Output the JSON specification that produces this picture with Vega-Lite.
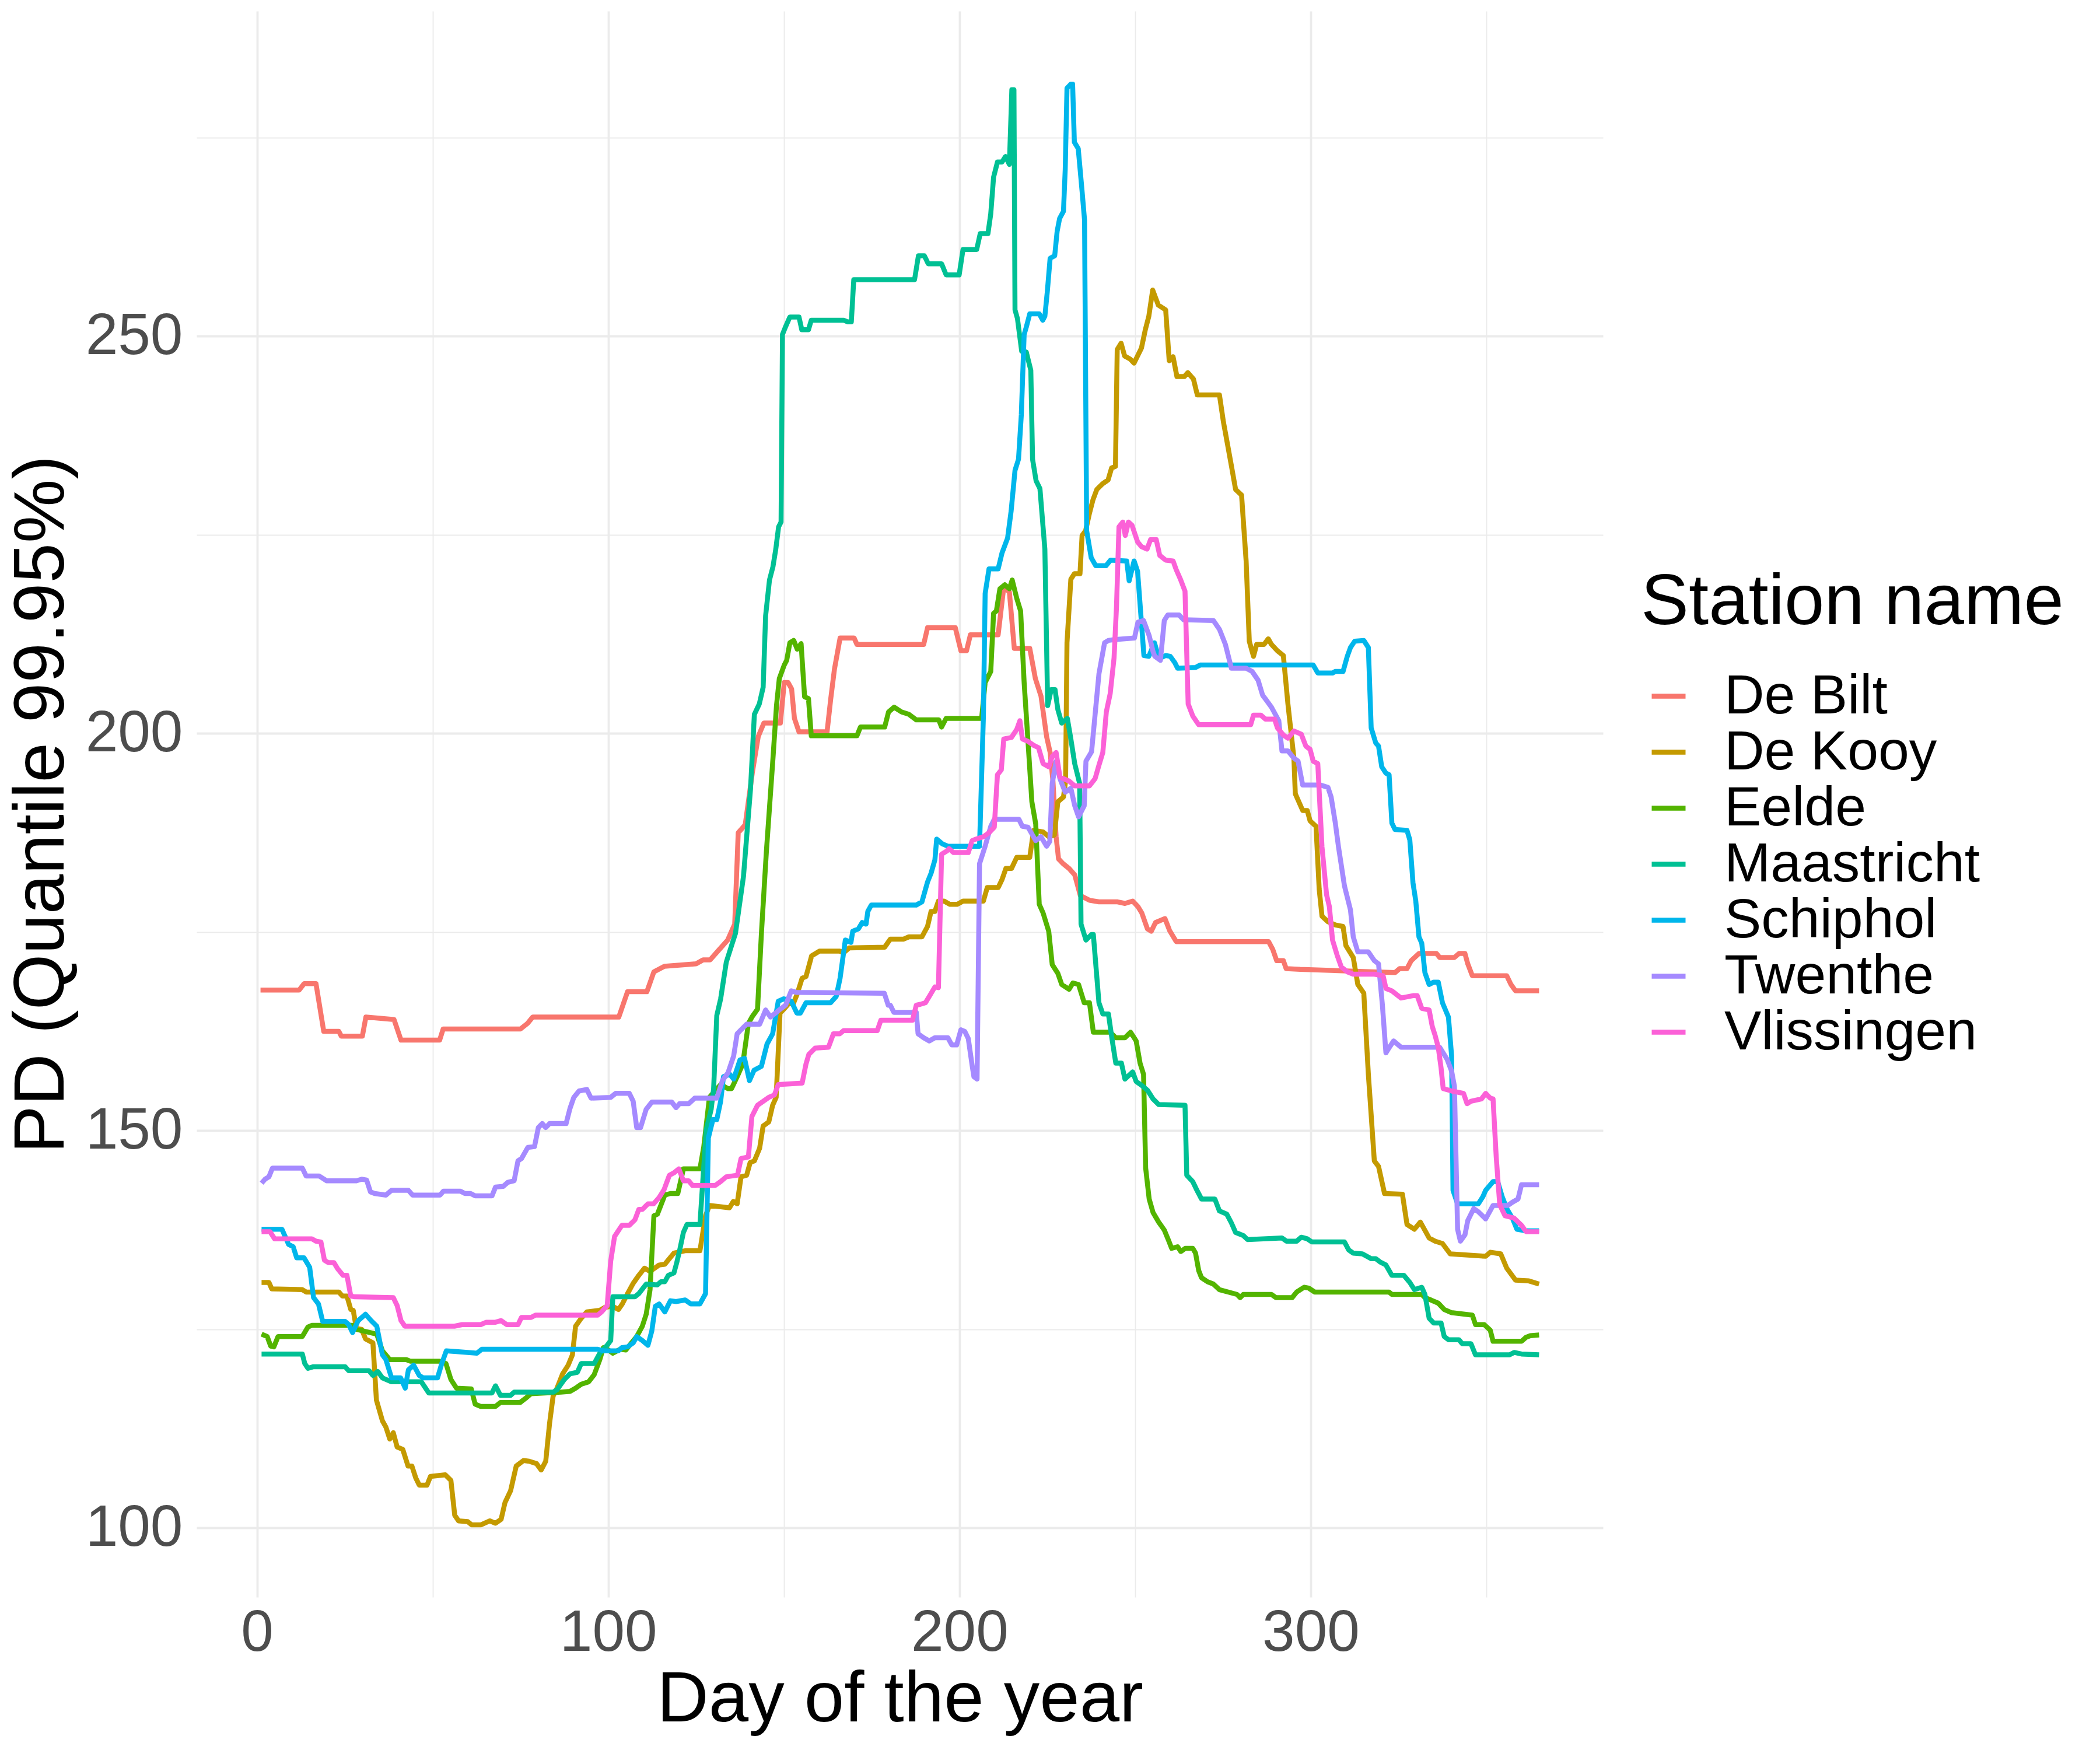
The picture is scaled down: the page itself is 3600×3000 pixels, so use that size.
{
  "$schema": "https://vega.github.io/schema/vega-lite/v6.json",
  "autosize": {"type": "none"},
  "padding": {"left": 337, "top": 19, "right": 852, "bottom": 262},
  "width": 2411,
  "height": 2719,
  "background": "white",
  "config": {
    "view": {"stroke": null},
    "font": "Liberation Sans",
    "axis": {
      "domain": false,
      "ticks": false,
      "tickSize": 0,
      "gridColor": "#EBEBEB",
      "labelFont": "Liberation Sans",
      "labelFontSize": 100,
      "labelColor": "#4D4D4D",
      "labelLimit": 600,
      "titleFont": "Liberation Sans",
      "titleFontSize": 123,
      "titleFontWeight": "normal",
      "titleColor": "black"
    },
    "legend": {
      "titleFont": "Liberation Sans",
      "titleFontSize": 123,
      "titleFontWeight": "normal",
      "titleColor": "black",
      "titleLimit": 2000,
      "titlePadding": 50,
      "labelFont": "Liberation Sans",
      "labelFontSize": 95,
      "labelColor": "black",
      "labelLimit": 2000,
      "labelOffset": 48,
      "rowPadding": 0,
      "padding": 0,
      "symbolType": "stroke",
      "symbolSize": 3364,
      "symbolStrokeWidth": 8.7
    }
  },
  "data": {
    "values": [
      {"station": "De Bilt", "day": 1, "pd": 167.7}, {"station": "De Bilt", "day": 12, "pd": 167.7}, {"station": "De Bilt", "day": 13.4, "pd": 168.5}, {"station": "De Bilt", "day": 16.8, "pd": 168.5}, {"station": "De Bilt", "day": 19, "pd": 162.5}, {"station": "De Bilt", "day": 23.3, "pd": 162.5}, {"station": "De Bilt", "day": 24, "pd": 161.9}, {"station": "De Bilt", "day": 30, "pd": 161.9}, {"station": "De Bilt", "day": 31, "pd": 164.3}, {"station": "De Bilt", "day": 39, "pd": 164}, {"station": "De Bilt", "day": 41, "pd": 161.4}, {"station": "De Bilt", "day": 52, "pd": 161.4}, {"station": "De Bilt", "day": 53, "pd": 162.8}, {"station": "De Bilt", "day": 75, "pd": 162.8}, {"station": "De Bilt", "day": 77, "pd": 163.5}, {"station": "De Bilt", "day": 78.5, "pd": 164.3}, {"station": "De Bilt", "day": 103, "pd": 164.3}, {"station": "De Bilt", "day": 105.5, "pd": 167.5}, {"station": "De Bilt", "day": 111, "pd": 167.5}, {"station": "De Bilt", "day": 113, "pd": 170}, {"station": "De Bilt", "day": 116, "pd": 170.7}, {"station": "De Bilt", "day": 125, "pd": 171}, {"station": "De Bilt", "day": 127, "pd": 171.5}, {"station": "De Bilt", "day": 129, "pd": 171.5}, {"station": "De Bilt", "day": 131, "pd": 172.5}, {"station": "De Bilt", "day": 134, "pd": 174}, {"station": "De Bilt", "day": 136, "pd": 176}, {"station": "De Bilt", "day": 137, "pd": 187.5}, {"station": "De Bilt", "day": 139, "pd": 188.5}, {"station": "De Bilt", "day": 141, "pd": 195}, {"station": "De Bilt", "day": 142.7, "pd": 199.6}, {"station": "De Bilt", "day": 144.3, "pd": 201.3}, {"station": "De Bilt", "day": 149, "pd": 201.3}, {"station": "De Bilt", "day": 150.1, "pd": 206.4}, {"station": "De Bilt", "day": 151.2, "pd": 206.4}, {"station": "De Bilt", "day": 152.2, "pd": 205.6}, {"station": "De Bilt", "day": 153, "pd": 201.9}, {"station": "De Bilt", "day": 154.3, "pd": 200.2}, {"station": "De Bilt", "day": 162.3, "pd": 200.2}, {"station": "De Bilt", "day": 163.3, "pd": 204.2}, {"station": "De Bilt", "day": 164.4, "pd": 208.1}, {"station": "De Bilt", "day": 166, "pd": 212}, {"station": "De Bilt", "day": 170, "pd": 212}, {"station": "De Bilt", "day": 170.8, "pd": 211.2}, {"station": "De Bilt", "day": 189.8, "pd": 211.2}, {"station": "De Bilt", "day": 190.9, "pd": 213.3}, {"station": "De Bilt", "day": 198.8, "pd": 213.3}, {"station": "De Bilt", "day": 200.4, "pd": 210.4}, {"station": "De Bilt", "day": 202, "pd": 210.4}, {"station": "De Bilt", "day": 203.1, "pd": 212.4}, {"station": "De Bilt", "day": 211, "pd": 212.4}, {"station": "De Bilt", "day": 212.6, "pd": 218.4}, {"station": "De Bilt", "day": 214.2, "pd": 217.8}, {"station": "De Bilt", "day": 215.6, "pd": 210.7}, {"station": "De Bilt", "day": 220, "pd": 210.7}, {"station": "De Bilt", "day": 221.6, "pd": 206.9}, {"station": "De Bilt", "day": 223.2, "pd": 204.7}, {"station": "De Bilt", "day": 224.8, "pd": 199.6}, {"station": "De Bilt", "day": 225.8, "pd": 197.6}, {"station": "De Bilt", "day": 226.6, "pd": 194}, {"station": "De Bilt", "day": 227.5, "pd": 187}, {"station": "De Bilt", "day": 228.2, "pd": 184.2}, {"station": "De Bilt", "day": 229.5, "pd": 183.6}, {"station": "De Bilt", "day": 231.2, "pd": 183}, {"station": "De Bilt", "day": 232.8, "pd": 182.2}, {"station": "De Bilt", "day": 234.4, "pd": 179.6}, {"station": "De Bilt", "day": 237, "pd": 179}, {"station": "De Bilt", "day": 239.7, "pd": 178.8}, {"station": "De Bilt", "day": 245, "pd": 178.8}, {"station": "De Bilt", "day": 247.1, "pd": 178.6}, {"station": "De Bilt", "day": 249.3, "pd": 178.9}, {"station": "De Bilt", "day": 250.8, "pd": 178.2}, {"station": "De Bilt", "day": 251.9, "pd": 177.4}, {"station": "De Bilt", "day": 253.5, "pd": 175.4}, {"station": "De Bilt", "day": 254.6, "pd": 175.1}, {"station": "De Bilt", "day": 255.8, "pd": 176.2}, {"station": "De Bilt", "day": 258.5, "pd": 176.7}, {"station": "De Bilt", "day": 259.8, "pd": 175.2}, {"station": "De Bilt", "day": 261.7, "pd": 173.8}, {"station": "De Bilt", "day": 288, "pd": 173.8}, {"station": "De Bilt", "day": 289.2, "pd": 172.8}, {"station": "De Bilt", "day": 290.3, "pd": 171.4}, {"station": "De Bilt", "day": 292.2, "pd": 171.4}, {"station": "De Bilt", "day": 293, "pd": 170.4}, {"station": "De Bilt", "day": 297, "pd": 170.3}, {"station": "De Bilt", "day": 324, "pd": 169.9}, {"station": "De Bilt", "day": 325.3, "pd": 170.4}, {"station": "De Bilt", "day": 327.4, "pd": 170.4}, {"station": "De Bilt", "day": 328.6, "pd": 171.4}, {"station": "De Bilt", "day": 330.8, "pd": 172.3}, {"station": "De Bilt", "day": 335.8, "pd": 172.3}, {"station": "De Bilt", "day": 336.7, "pd": 171.8}, {"station": "De Bilt", "day": 340.9, "pd": 171.8}, {"station": "De Bilt", "day": 342.2, "pd": 172.3}, {"station": "De Bilt", "day": 343.9, "pd": 172.3}, {"station": "De Bilt", "day": 344.7, "pd": 171}, {"station": "De Bilt", "day": 346, "pd": 169.5}, {"station": "De Bilt", "day": 355.8, "pd": 169.5}, {"station": "De Bilt", "day": 357, "pd": 168.4}, {"station": "De Bilt", "day": 358.3, "pd": 167.6}, {"station": "De Bilt", "day": 365, "pd": 167.6},

      {"station": "De Kooy", "day": 1.3, "pd": 130.9}, {"station": "De Kooy", "day": 3.4, "pd": 130.9}, {"station": "De Kooy", "day": 4.2, "pd": 130.1}, {"station": "De Kooy", "day": 12.9, "pd": 130}, {"station": "De Kooy", "day": 14, "pd": 129.7}, {"station": "De Kooy", "day": 23.3, "pd": 129.7}, {"station": "De Kooy", "day": 24.3, "pd": 129.2}, {"station": "De Kooy", "day": 25.6, "pd": 129.2}, {"station": "De Kooy", "day": 26.7, "pd": 127.5}, {"station": "De Kooy", "day": 27.4, "pd": 127.4}, {"station": "De Kooy", "day": 28.3, "pd": 125.1}, {"station": "De Kooy", "day": 29.8, "pd": 125}, {"station": "De Kooy", "day": 30.9, "pd": 123.8}, {"station": "De Kooy", "day": 33, "pd": 123.3}, {"station": "De Kooy", "day": 34, "pd": 116.1}, {"station": "De Kooy", "day": 35.7, "pd": 113.5}, {"station": "De Kooy", "day": 36.7, "pd": 112.7}, {"station": "De Kooy", "day": 37.8, "pd": 111.2}, {"station": "De Kooy", "day": 38.8, "pd": 112}, {"station": "De Kooy", "day": 39.9, "pd": 110.2}, {"station": "De Kooy", "day": 41.5, "pd": 109.9}, {"station": "De Kooy", "day": 43, "pd": 107.8}, {"station": "De Kooy", "day": 44.1, "pd": 107.8}, {"station": "De Kooy", "day": 45.2, "pd": 106.3}, {"station": "De Kooy", "day": 46.2, "pd": 105.4}, {"station": "De Kooy", "day": 48.4, "pd": 105.4}, {"station": "De Kooy", "day": 49.4, "pd": 106.5}, {"station": "De Kooy", "day": 53.6, "pd": 106.7}, {"station": "De Kooy", "day": 55.2, "pd": 106}, {"station": "De Kooy", "day": 56.3, "pd": 101.6}, {"station": "De Kooy", "day": 57.4, "pd": 100.9}, {"station": "De Kooy", "day": 60, "pd": 100.8}, {"station": "De Kooy", "day": 61.1, "pd": 100.4}, {"station": "De Kooy", "day": 63.7, "pd": 100.4}, {"station": "De Kooy", "day": 66.3, "pd": 100.9}, {"station": "De Kooy", "day": 67.9, "pd": 100.6}, {"station": "De Kooy", "day": 69.5, "pd": 101.1}, {"station": "De Kooy", "day": 70.6, "pd": 103.2}, {"station": "De Kooy", "day": 72.2, "pd": 104.7}, {"station": "De Kooy", "day": 73.8, "pd": 107.8}, {"station": "De Kooy", "day": 75.9, "pd": 108.5}, {"station": "De Kooy", "day": 77.5, "pd": 108.4}, {"station": "De Kooy", "day": 79.6, "pd": 108.1}, {"station": "De Kooy", "day": 80.9, "pd": 107.3}, {"station": "De Kooy", "day": 82.2, "pd": 108.4}, {"station": "De Kooy", "day": 83.3, "pd": 113.2}, {"station": "De Kooy", "day": 84.3, "pd": 116.6}, {"station": "De Kooy", "day": 85.4, "pd": 117.6}, {"station": "De Kooy", "day": 87, "pd": 119.4}, {"station": "De Kooy", "day": 88.6, "pd": 120.5}, {"station": "De Kooy", "day": 89.8, "pd": 121.8}, {"station": "De Kooy", "day": 90.7, "pd": 125.4}, {"station": "De Kooy", "day": 92.3, "pd": 126.4}, {"station": "De Kooy", "day": 93.9, "pd": 127.2}, {"station": "De Kooy", "day": 97.6, "pd": 127.4}, {"station": "De Kooy", "day": 99.2, "pd": 127.8}, {"station": "De Kooy", "day": 101.3, "pd": 127.9}, {"station": "De Kooy", "day": 102.9, "pd": 127.5}, {"station": "De Kooy", "day": 104, "pd": 128.2}, {"station": "De Kooy", "day": 105.5, "pd": 129.5}, {"station": "De Kooy", "day": 107.1, "pd": 130.8}, {"station": "De Kooy", "day": 108.7, "pd": 131.8}, {"station": "De Kooy", "day": 110.3, "pd": 132.7}, {"station": "De Kooy", "day": 111.9, "pd": 132.3}, {"station": "De Kooy", "day": 114.5, "pd": 133.1}, {"station": "De Kooy", "day": 116.1, "pd": 133.2}, {"station": "De Kooy", "day": 118.7, "pd": 134.6}, {"station": "De Kooy", "day": 121.9, "pd": 134.9}, {"station": "De Kooy", "day": 126.1, "pd": 134.9}, {"station": "De Kooy", "day": 127.7, "pd": 139.3}, {"station": "De Kooy", "day": 128.8, "pd": 140.6}, {"station": "De Kooy", "day": 134.5, "pd": 140.3}, {"station": "De Kooy", "day": 135.6, "pd": 141.1}, {"station": "De Kooy", "day": 136.7, "pd": 140.8}, {"station": "De Kooy", "day": 137.8, "pd": 144.2}, {"station": "De Kooy", "day": 139.4, "pd": 144.4}, {"station": "De Kooy", "day": 140.4, "pd": 146}, {"station": "De Kooy", "day": 141.6, "pd": 146.2}, {"station": "De Kooy", "day": 143.1, "pd": 147.8}, {"station": "De Kooy", "day": 144.1, "pd": 150.6}, {"station": "De Kooy", "day": 145.7, "pd": 151.1}, {"station": "De Kooy", "day": 146.8, "pd": 153.2}, {"station": "De Kooy", "day": 147.8, "pd": 154.2}, {"station": "De Kooy", "day": 148.9, "pd": 164.8}, {"station": "De Kooy", "day": 150, "pd": 165.3}, {"station": "De Kooy", "day": 151.6, "pd": 166.1}, {"station": "De Kooy", "day": 152.6, "pd": 165.9}, {"station": "De Kooy", "day": 153.7, "pd": 167.1}, {"station": "De Kooy", "day": 155.2, "pd": 169.2}, {"station": "De Kooy", "day": 156.3, "pd": 169.4}, {"station": "De Kooy", "day": 157.9, "pd": 172}, {"station": "De Kooy", "day": 160.1, "pd": 172.6}, {"station": "De Kooy", "day": 165.9, "pd": 172.6}, {"station": "De Kooy", "day": 167, "pd": 172.4}, {"station": "De Kooy", "day": 168.6, "pd": 173}, {"station": "De Kooy", "day": 178.7, "pd": 173.1}, {"station": "De Kooy", "day": 180.3, "pd": 174.1}, {"station": "De Kooy", "day": 184, "pd": 174.1}, {"station": "De Kooy", "day": 185.6, "pd": 174.4}, {"station": "De Kooy", "day": 189.3, "pd": 174.4}, {"station": "De Kooy", "day": 190.9, "pd": 175.7}, {"station": "De Kooy", "day": 191.9, "pd": 177.6}, {"station": "De Kooy", "day": 193, "pd": 177.6}, {"station": "De Kooy", "day": 194, "pd": 178.9}, {"station": "De Kooy", "day": 195.6, "pd": 178.9}, {"station": "De Kooy", "day": 197.2, "pd": 178.5}, {"station": "De Kooy", "day": 199.4, "pd": 178.5}, {"station": "De Kooy", "day": 201, "pd": 178.9}, {"station": "De Kooy", "day": 206.8, "pd": 178.9}, {"station": "De Kooy", "day": 207.9, "pd": 180.6}, {"station": "De Kooy", "day": 211, "pd": 180.6}, {"station": "De Kooy", "day": 212.1, "pd": 181.6}, {"station": "De Kooy", "day": 213.2, "pd": 183}, {"station": "De Kooy", "day": 214.8, "pd": 183}, {"station": "De Kooy", "day": 216.3, "pd": 184.4}, {"station": "De Kooy", "day": 220, "pd": 184.4}, {"station": "De Kooy", "day": 221.1, "pd": 187.8}, {"station": "De Kooy", "day": 223.8, "pd": 187.6}, {"station": "De Kooy", "day": 225.4, "pd": 187}, {"station": "De Kooy", "day": 227, "pd": 187.2}, {"station": "De Kooy", "day": 228, "pd": 191.4}, {"station": "De Kooy", "day": 229.6, "pd": 192}, {"station": "De Kooy", "day": 230.2, "pd": 194}, {"station": "De Kooy", "day": 230.6, "pd": 211.4}, {"station": "De Kooy", "day": 231.7, "pd": 219.4}, {"station": "De Kooy", "day": 232.7, "pd": 220.1}, {"station": "De Kooy", "day": 234.3, "pd": 220.1}, {"station": "De Kooy", "day": 234.9, "pd": 224.9}, {"station": "De Kooy", "day": 235.9, "pd": 225.5}, {"station": "De Kooy", "day": 237, "pd": 227.7}, {"station": "De Kooy", "day": 238, "pd": 229.4}, {"station": "De Kooy", "day": 239.1, "pd": 230.7}, {"station": "De Kooy", "day": 240.7, "pd": 231.4}, {"station": "De Kooy", "day": 242.3, "pd": 231.9}, {"station": "De Kooy", "day": 243.3, "pd": 233.4}, {"station": "De Kooy", "day": 244.4, "pd": 233.6}, {"station": "De Kooy", "day": 244.9, "pd": 248.3}, {"station": "De Kooy", "day": 246, "pd": 249.1}, {"station": "De Kooy", "day": 247, "pd": 247.5}, {"station": "De Kooy", "day": 248.6, "pd": 247.1}, {"station": "De Kooy", "day": 249.7, "pd": 246.6}, {"station": "De Kooy", "day": 251.8, "pd": 248.5}, {"station": "De Kooy", "day": 252.9, "pd": 250.8}, {"station": "De Kooy", "day": 253.9, "pd": 252.5}, {"station": "De Kooy", "day": 255, "pd": 255.8}, {"station": "De Kooy", "day": 256.6, "pd": 253.9}, {"station": "De Kooy", "day": 258.7, "pd": 253.3}, {"station": "De Kooy", "day": 259.7, "pd": 246.9}, {"station": "De Kooy", "day": 260.8, "pd": 247.4}, {"station": "De Kooy", "day": 261.9, "pd": 244.9}, {"station": "De Kooy", "day": 264, "pd": 244.9}, {"station": "De Kooy", "day": 265, "pd": 245.4}, {"station": "De Kooy", "day": 266.6, "pd": 244.6}, {"station": "De Kooy", "day": 267.7, "pd": 242.6}, {"station": "De Kooy", "day": 274, "pd": 242.6}, {"station": "De Kooy", "day": 275.1, "pd": 239.3}, {"station": "De Kooy", "day": 277.4, "pd": 233.7}, {"station": "De Kooy", "day": 278.6, "pd": 230.7}, {"station": "De Kooy", "day": 280.3, "pd": 230}, {"station": "De Kooy", "day": 281.6, "pd": 221.7}, {"station": "De Kooy", "day": 282.5, "pd": 211.6}, {"station": "De Kooy", "day": 283.7, "pd": 209.7}, {"station": "De Kooy", "day": 284.6, "pd": 211.2}, {"station": "De Kooy", "day": 286.7, "pd": 211.2}, {"station": "De Kooy", "day": 287.9, "pd": 211.9}, {"station": "De Kooy", "day": 288.8, "pd": 211.2}, {"station": "De Kooy", "day": 290.5, "pd": 210.4}, {"station": "De Kooy", "day": 292.2, "pd": 209.8}, {"station": "De Kooy", "day": 293.5, "pd": 203.7}, {"station": "De Kooy", "day": 295.2, "pd": 196.9}, {"station": "De Kooy", "day": 295.6, "pd": 192.4}, {"station": "De Kooy", "day": 297.7, "pd": 190.3}, {"station": "De Kooy", "day": 299, "pd": 190.3}, {"station": "De Kooy", "day": 299.8, "pd": 189}, {"station": "De Kooy", "day": 301.5, "pd": 188.3}, {"station": "De Kooy", "day": 302.4, "pd": 180.4}, {"station": "De Kooy", "day": 303.2, "pd": 177}, {"station": "De Kooy", "day": 304.9, "pd": 176.3}, {"station": "De Kooy", "day": 307, "pd": 175.9}, {"station": "De Kooy", "day": 309.2, "pd": 175.7}, {"station": "De Kooy", "day": 310, "pd": 173.3}, {"station": "De Kooy", "day": 312.1, "pd": 171.8}, {"station": "De Kooy", "day": 313.4, "pd": 168.4}, {"station": "De Kooy", "day": 315.1, "pd": 167.3}, {"station": "De Kooy", "day": 316.4, "pd": 157.1}, {"station": "De Kooy", "day": 318.1, "pd": 146.2}, {"station": "De Kooy", "day": 319.3, "pd": 145.5}, {"station": "De Kooy", "day": 321, "pd": 142.1}, {"station": "De Kooy", "day": 326.1, "pd": 142}, {"station": "De Kooy", "day": 327.4, "pd": 138.2}, {"station": "De Kooy", "day": 329.5, "pd": 137.6}, {"station": "De Kooy", "day": 331.2, "pd": 138.5}, {"station": "De Kooy", "day": 333.7, "pd": 136.5}, {"station": "De Kooy", "day": 335.4, "pd": 136.1}, {"station": "De Kooy", "day": 337.5, "pd": 135.8}, {"station": "De Kooy", "day": 339.7, "pd": 134.5}, {"station": "De Kooy", "day": 349.8, "pd": 134.2}, {"station": "De Kooy", "day": 351.1, "pd": 134.7}, {"station": "De Kooy", "day": 354.1, "pd": 134.5}, {"station": "De Kooy", "day": 355.8, "pd": 132.7}, {"station": "De Kooy", "day": 358.3, "pd": 131.2}, {"station": "De Kooy", "day": 362.1, "pd": 131.1}, {"station": "De Kooy", "day": 365, "pd": 130.7},

      {"station": "Eelde", "day": 1.3, "pd": 124.4}, {"station": "Eelde", "day": 2.9, "pd": 124.1}, {"station": "Eelde", "day": 3.9, "pd": 122.9}, {"station": "Eelde", "day": 4.8, "pd": 122.8}, {"station": "Eelde", "day": 6, "pd": 124.1}, {"station": "Eelde", "day": 12.9, "pd": 124.1}, {"station": "Eelde", "day": 14.5, "pd": 125.3}, {"station": "Eelde", "day": 15.6, "pd": 125.5}, {"station": "Eelde", "day": 27.2, "pd": 125.5}, {"station": "Eelde", "day": 28.3, "pd": 125}, {"station": "Eelde", "day": 34.1, "pd": 124.4}, {"station": "Eelde", "day": 35.7, "pd": 122.3}, {"station": "Eelde", "day": 37.8, "pd": 121.2}, {"station": "Eelde", "day": 42.5, "pd": 121.2}, {"station": "Eelde", "day": 43.6, "pd": 121}, {"station": "Eelde", "day": 52, "pd": 121}, {"station": "Eelde", "day": 53.8, "pd": 120.7}, {"station": "Eelde", "day": 55.2, "pd": 118.7}, {"station": "Eelde", "day": 56.8, "pd": 117.6}, {"station": "Eelde", "day": 61, "pd": 117.5}, {"station": "Eelde", "day": 62.1, "pd": 115.6}, {"station": "Eelde", "day": 63.7, "pd": 115.3}, {"station": "Eelde", "day": 67.9, "pd": 115.3}, {"station": "Eelde", "day": 69.3, "pd": 115.8}, {"station": "Eelde", "day": 74.9, "pd": 115.8}, {"station": "Eelde", "day": 76.4, "pd": 116.3}, {"station": "Eelde", "day": 78, "pd": 116.9}, {"station": "Eelde", "day": 86.5, "pd": 117.1}, {"station": "Eelde", "day": 89.1, "pd": 117.2}, {"station": "Eelde", "day": 90.7, "pd": 117.6}, {"station": "Eelde", "day": 92.3, "pd": 118.1}, {"station": "Eelde", "day": 94.4, "pd": 118.4}, {"station": "Eelde", "day": 96, "pd": 119.3}, {"station": "Eelde", "day": 97.6, "pd": 121.2}, {"station": "Eelde", "day": 98.6, "pd": 122.7}, {"station": "Eelde", "day": 99.7, "pd": 122.5}, {"station": "Eelde", "day": 101.3, "pd": 122}, {"station": "Eelde", "day": 103.4, "pd": 122.5}, {"station": "Eelde", "day": 105, "pd": 122.4}, {"station": "Eelde", "day": 106.6, "pd": 123.3}, {"station": "Eelde", "day": 108.1, "pd": 124.1}, {"station": "Eelde", "day": 109.7, "pd": 125.4}, {"station": "Eelde", "day": 110.8, "pd": 126.9}, {"station": "Eelde", "day": 111.9, "pd": 130}, {"station": "Eelde", "day": 113, "pd": 139.3}, {"station": "Eelde", "day": 114, "pd": 139.5}, {"station": "Eelde", "day": 116.1, "pd": 141.9}, {"station": "Eelde", "day": 117.7, "pd": 142.1}, {"station": "Eelde", "day": 119.8, "pd": 142.1}, {"station": "Eelde", "day": 121.4, "pd": 145.2}, {"station": "Eelde", "day": 126.1, "pd": 145.2}, {"station": "Eelde", "day": 127.2, "pd": 148}, {"station": "Eelde", "day": 128.8, "pd": 154.2}, {"station": "Eelde", "day": 132, "pd": 155.8}, {"station": "Eelde", "day": 134.1, "pd": 155.3}, {"station": "Eelde", "day": 135.1, "pd": 155.3}, {"station": "Eelde", "day": 136.7, "pd": 156.8}, {"station": "Eelde", "day": 138.3, "pd": 158.4}, {"station": "Eelde", "day": 139.9, "pd": 163.5}, {"station": "Eelde", "day": 140.9, "pd": 164.3}, {"station": "Eelde", "day": 142.5, "pd": 165.3}, {"station": "Eelde", "day": 143.6, "pd": 174.8}, {"station": "Eelde", "day": 145, "pd": 185}, {"station": "Eelde", "day": 146.9, "pd": 196.9}, {"station": "Eelde", "day": 147.9, "pd": 203.5}, {"station": "Eelde", "day": 148.7, "pd": 206.9}, {"station": "Eelde", "day": 150.1, "pd": 208.6}, {"station": "Eelde", "day": 150.8, "pd": 209.2}, {"station": "Eelde", "day": 151.7, "pd": 211.4}, {"station": "Eelde", "day": 152.8, "pd": 211.7}, {"station": "Eelde", "day": 153.8, "pd": 210.6}, {"station": "Eelde", "day": 154.9, "pd": 211.3}, {"station": "Eelde", "day": 155.9, "pd": 204.6}, {"station": "Eelde", "day": 157, "pd": 204.4}, {"station": "Eelde", "day": 157.8, "pd": 199.7}, {"station": "Eelde", "day": 170.8, "pd": 199.7}, {"station": "Eelde", "day": 171.8, "pd": 200.8}, {"station": "Eelde", "day": 178.7, "pd": 200.8}, {"station": "Eelde", "day": 179.8, "pd": 202.7}, {"station": "Eelde", "day": 181.4, "pd": 203.3}, {"station": "Eelde", "day": 183.5, "pd": 202.7}, {"station": "Eelde", "day": 185.6, "pd": 202.4}, {"station": "Eelde", "day": 187.7, "pd": 201.7}, {"station": "Eelde", "day": 194.1, "pd": 201.7}, {"station": "Eelde", "day": 194.9, "pd": 200.8}, {"station": "Eelde", "day": 196.2, "pd": 201.9}, {"station": "Eelde", "day": 206.3, "pd": 201.9}, {"station": "Eelde", "day": 207.3, "pd": 206.4}, {"station": "Eelde", "day": 208.9, "pd": 207.8}, {"station": "Eelde", "day": 209.7, "pd": 215.1}, {"station": "Eelde", "day": 210.5, "pd": 215.4}, {"station": "Eelde", "day": 211.5, "pd": 218.2}, {"station": "Eelde", "day": 212.9, "pd": 218.7}, {"station": "Eelde", "day": 214.2, "pd": 218.2}, {"station": "Eelde", "day": 215, "pd": 219.3}, {"station": "Eelde", "day": 216.3, "pd": 217}, {"station": "Eelde", "day": 217.4, "pd": 215.4}, {"station": "Eelde", "day": 218.4, "pd": 206.4}, {"station": "Eelde", "day": 219.5, "pd": 199}, {"station": "Eelde", "day": 220.6, "pd": 191.4}, {"station": "Eelde", "day": 221.7, "pd": 188.6}, {"station": "Eelde", "day": 222.7, "pd": 178.5}, {"station": "Eelde", "day": 223.8, "pd": 177.4}, {"station": "Eelde", "day": 225.4, "pd": 175.1}, {"station": "Eelde", "day": 226.4, "pd": 170.9}, {"station": "Eelde", "day": 228, "pd": 169.8}, {"station": "Eelde", "day": 229.1, "pd": 168.4}, {"station": "Eelde", "day": 231.2, "pd": 167.8}, {"station": "Eelde", "day": 232.3, "pd": 168.6}, {"station": "Eelde", "day": 233.9, "pd": 168.4}, {"station": "Eelde", "day": 235.5, "pd": 166.1}, {"station": "Eelde", "day": 237, "pd": 166.1}, {"station": "Eelde", "day": 238.1, "pd": 162.4}, {"station": "Eelde", "day": 242.9, "pd": 162.4}, {"station": "Eelde", "day": 244.5, "pd": 161.7}, {"station": "Eelde", "day": 247.1, "pd": 161.7}, {"station": "Eelde", "day": 248.7, "pd": 162.4}, {"station": "Eelde", "day": 250.3, "pd": 161.3}, {"station": "Eelde", "day": 251.4, "pd": 158.5}, {"station": "Eelde", "day": 252.4, "pd": 157.1}, {"station": "Eelde", "day": 253, "pd": 145.3}, {"station": "Eelde", "day": 254, "pd": 141.4}, {"station": "Eelde", "day": 255.1, "pd": 139.7}, {"station": "Eelde", "day": 256.7, "pd": 138.5}, {"station": "Eelde", "day": 258.3, "pd": 137.5}, {"station": "Eelde", "day": 259.6, "pd": 136.1}, {"station": "Eelde", "day": 260.4, "pd": 135.2}, {"station": "Eelde", "day": 262.1, "pd": 135.4}, {"station": "Eelde", "day": 263, "pd": 134.8}, {"station": "Eelde", "day": 264.3, "pd": 135.2}, {"station": "Eelde", "day": 266.4, "pd": 135.2}, {"station": "Eelde", "day": 267.2, "pd": 134.6}, {"station": "Eelde", "day": 268.1, "pd": 132.4}, {"station": "Eelde", "day": 268.9, "pd": 131.5}, {"station": "Eelde", "day": 270.6, "pd": 131}, {"station": "Eelde", "day": 272.3, "pd": 130.7}, {"station": "Eelde", "day": 274, "pd": 130}, {"station": "Eelde", "day": 279, "pd": 129.4}, {"station": "Eelde", "day": 279.9, "pd": 129}, {"station": "Eelde", "day": 280.8, "pd": 129.4}, {"station": "Eelde", "day": 288.8, "pd": 129.4}, {"station": "Eelde", "day": 290.1, "pd": 129}, {"station": "Eelde", "day": 294.7, "pd": 129}, {"station": "Eelde", "day": 296, "pd": 129.7}, {"station": "Eelde", "day": 298.1, "pd": 130.3}, {"station": "Eelde", "day": 299.4, "pd": 130.2}, {"station": "Eelde", "day": 301.1, "pd": 129.7}, {"station": "Eelde", "day": 322.3, "pd": 129.7}, {"station": "Eelde", "day": 323.1, "pd": 129.4}, {"station": "Eelde", "day": 331.6, "pd": 129.4}, {"station": "Eelde", "day": 332.5, "pd": 129}, {"station": "Eelde", "day": 334.2, "pd": 128.7}, {"station": "Eelde", "day": 336.3, "pd": 128.3}, {"station": "Eelde", "day": 338, "pd": 127.5}, {"station": "Eelde", "day": 340.1, "pd": 127.1}, {"station": "Eelde", "day": 346, "pd": 126.8}, {"station": "Eelde", "day": 346.9, "pd": 125.6}, {"station": "Eelde", "day": 349.4, "pd": 125.6}, {"station": "Eelde", "day": 351.1, "pd": 124.9}, {"station": "Eelde", "day": 351.9, "pd": 123.5}, {"station": "Eelde", "day": 360, "pd": 123.5}, {"station": "Eelde", "day": 361.3, "pd": 124}, {"station": "Eelde", "day": 362.5, "pd": 124.2}, {"station": "Eelde", "day": 365, "pd": 124.3},

      {"station": "Maastricht", "day": 1.3, "pd": 121.9}, {"station": "Maastricht", "day": 12.9, "pd": 121.9}, {"station": "Maastricht", "day": 13.6, "pd": 120.7}, {"station": "Maastricht", "day": 14.5, "pd": 120.1}, {"station": "Maastricht", "day": 16.1, "pd": 120.3}, {"station": "Maastricht", "day": 25.1, "pd": 120.3}, {"station": "Maastricht", "day": 26.1, "pd": 119.8}, {"station": "Maastricht", "day": 31.9, "pd": 119.8}, {"station": "Maastricht", "day": 33, "pd": 119.2}, {"station": "Maastricht", "day": 34.4, "pd": 119.7}, {"station": "Maastricht", "day": 35.7, "pd": 118.9}, {"station": "Maastricht", "day": 38.3, "pd": 118.4}, {"station": "Maastricht", "day": 46.8, "pd": 118.4}, {"station": "Maastricht", "day": 48.9, "pd": 117}, {"station": "Maastricht", "day": 66.9, "pd": 117}, {"station": "Maastricht", "day": 67.9, "pd": 117.9}, {"station": "Maastricht", "day": 69.3, "pd": 116.7}, {"station": "Maastricht", "day": 72.2, "pd": 116.7}, {"station": "Maastricht", "day": 73.2, "pd": 117.1}, {"station": "Maastricht", "day": 84.3, "pd": 117.1}, {"station": "Maastricht", "day": 85.4, "pd": 117.4}, {"station": "Maastricht", "day": 87.5, "pd": 118.7}, {"station": "Maastricht", "day": 89.1, "pd": 119.4}, {"station": "Maastricht", "day": 91.2, "pd": 119.6}, {"station": "Maastricht", "day": 92.3, "pd": 120.7}, {"station": "Maastricht", "day": 96, "pd": 120.7}, {"station": "Maastricht", "day": 97.6, "pd": 122}, {"station": "Maastricht", "day": 99.7, "pd": 123}, {"station": "Maastricht", "day": 100.7, "pd": 123.6}, {"station": "Maastricht", "day": 101.3, "pd": 129.1}, {"station": "Maastricht", "day": 107.6, "pd": 129.1}, {"station": "Maastricht", "day": 108.7, "pd": 129.5}, {"station": "Maastricht", "day": 110.8, "pd": 130.7}, {"station": "Maastricht", "day": 114, "pd": 130.6}, {"station": "Maastricht", "day": 115, "pd": 131}, {"station": "Maastricht", "day": 116.1, "pd": 131}, {"station": "Maastricht", "day": 117.1, "pd": 131.8}, {"station": "Maastricht", "day": 118.7, "pd": 132.1}, {"station": "Maastricht", "day": 119.5, "pd": 133.4}, {"station": "Maastricht", "day": 120.3, "pd": 134.9}, {"station": "Maastricht", "day": 121.4, "pd": 137.2}, {"station": "Maastricht", "day": 122.4, "pd": 138.2}, {"station": "Maastricht", "day": 126.1, "pd": 138.2}, {"station": "Maastricht", "day": 126.8, "pd": 142.9}, {"station": "Maastricht", "day": 127.9, "pd": 150.1}, {"station": "Maastricht", "day": 129.3, "pd": 152.7}, {"station": "Maastricht", "day": 130, "pd": 155.3}, {"station": "Maastricht", "day": 130.9, "pd": 164.5}, {"station": "Maastricht", "day": 132, "pd": 166.6}, {"station": "Maastricht", "day": 133.6, "pd": 171.2}, {"station": "Maastricht", "day": 135.1, "pd": 173.3}, {"station": "Maastricht", "day": 136.2, "pd": 174.8}, {"station": "Maastricht", "day": 138.5, "pd": 182}, {"station": "Maastricht", "day": 140.5, "pd": 193}, {"station": "Maastricht", "day": 141.6, "pd": 202.4}, {"station": "Maastricht", "day": 143, "pd": 203.7}, {"station": "Maastricht", "day": 144.1, "pd": 205.8}, {"station": "Maastricht", "day": 144.8, "pd": 214.8}, {"station": "Maastricht", "day": 145.9, "pd": 219.3}, {"station": "Maastricht", "day": 146.9, "pd": 221}, {"station": "Maastricht", "day": 147.7, "pd": 223.2}, {"station": "Maastricht", "day": 148.5, "pd": 226}, {"station": "Maastricht", "day": 149.2, "pd": 226.6}, {"station": "Maastricht", "day": 149.6, "pd": 250.2}, {"station": "Maastricht", "day": 150.6, "pd": 251.3}, {"station": "Maastricht", "day": 151.7, "pd": 252.4}, {"station": "Maastricht", "day": 154.3, "pd": 252.4}, {"station": "Maastricht", "day": 155.1, "pd": 250.8}, {"station": "Maastricht", "day": 157, "pd": 250.8}, {"station": "Maastricht", "day": 157.8, "pd": 252}, {"station": "Maastricht", "day": 167, "pd": 252}, {"station": "Maastricht", "day": 168.1, "pd": 251.8}, {"station": "Maastricht", "day": 169.2, "pd": 251.8}, {"station": "Maastricht", "day": 169.9, "pd": 257.1}, {"station": "Maastricht", "day": 187.2, "pd": 257.1}, {"station": "Maastricht", "day": 188.3, "pd": 260.1}, {"station": "Maastricht", "day": 190, "pd": 260.1}, {"station": "Maastricht", "day": 191.1, "pd": 259.1}, {"station": "Maastricht", "day": 194.9, "pd": 259.1}, {"station": "Maastricht", "day": 196.2, "pd": 257.7}, {"station": "Maastricht", "day": 199.9, "pd": 257.7}, {"station": "Maastricht", "day": 201, "pd": 260.9}, {"station": "Maastricht", "day": 204.9, "pd": 260.9}, {"station": "Maastricht", "day": 205.9, "pd": 262.9}, {"station": "Maastricht", "day": 208.1, "pd": 262.9}, {"station": "Maastricht", "day": 208.9, "pd": 265.4}, {"station": "Maastricht", "day": 209.7, "pd": 270}, {"station": "Maastricht", "day": 210.8, "pd": 271.9}, {"station": "Maastricht", "day": 212.1, "pd": 271.9}, {"station": "Maastricht", "day": 213.1, "pd": 272.6}, {"station": "Maastricht", "day": 214.2, "pd": 271.6}, {"station": "Maastricht", "day": 214.9, "pd": 281}, {"station": "Maastricht", "day": 215.5, "pd": 281}, {"station": "Maastricht", "day": 215.8, "pd": 253.3}, {"station": "Maastricht", "day": 216.5, "pd": 252.2}, {"station": "Maastricht", "day": 217.7, "pd": 248.1}, {"station": "Maastricht", "day": 219, "pd": 248}, {"station": "Maastricht", "day": 220.3, "pd": 245.7}, {"station": "Maastricht", "day": 220.8, "pd": 234.5}, {"station": "Maastricht", "day": 221.8, "pd": 231.8}, {"station": "Maastricht", "day": 222.9, "pd": 230.8}, {"station": "Maastricht", "day": 224.3, "pd": 223.2}, {"station": "Maastricht", "day": 225.1, "pd": 203.5}, {"station": "Maastricht", "day": 226.1, "pd": 205.5}, {"station": "Maastricht", "day": 227.2, "pd": 205.5}, {"station": "Maastricht", "day": 228, "pd": 203}, {"station": "Maastricht", "day": 229.1, "pd": 201.3}, {"station": "Maastricht", "day": 230.7, "pd": 201.9}, {"station": "Maastricht", "day": 231.7, "pd": 199.3}, {"station": "Maastricht", "day": 232.8, "pd": 196.2}, {"station": "Maastricht", "day": 234.2, "pd": 193.7}, {"station": "Maastricht", "day": 234.6, "pd": 176}, {"station": "Maastricht", "day": 236, "pd": 174}, {"station": "Maastricht", "day": 237.6, "pd": 174.7}, {"station": "Maastricht", "day": 238.1, "pd": 174.7}, {"station": "Maastricht", "day": 239.7, "pd": 166.1}, {"station": "Maastricht", "day": 240.8, "pd": 164.7}, {"station": "Maastricht", "day": 242.4, "pd": 164.7}, {"station": "Maastricht", "day": 243.4, "pd": 161.6}, {"station": "Maastricht", "day": 244.5, "pd": 158.5}, {"station": "Maastricht", "day": 246.1, "pd": 158.5}, {"station": "Maastricht", "day": 247.1, "pd": 156.5}, {"station": "Maastricht", "day": 249.3, "pd": 157.4}, {"station": "Maastricht", "day": 250.3, "pd": 156.2}, {"station": "Maastricht", "day": 251.9, "pd": 155.7}, {"station": "Maastricht", "day": 253.5, "pd": 155.1}, {"station": "Maastricht", "day": 255.1, "pd": 154}, {"station": "Maastricht", "day": 256.7, "pd": 153.3}, {"station": "Maastricht", "day": 264.2, "pd": 153.2}, {"station": "Maastricht", "day": 264.7, "pd": 144.4}, {"station": "Maastricht", "day": 266.4, "pd": 143.6}, {"station": "Maastricht", "day": 267.6, "pd": 142.5}, {"station": "Maastricht", "day": 268.9, "pd": 141.4}, {"station": "Maastricht", "day": 272.7, "pd": 141.4}, {"station": "Maastricht", "day": 274, "pd": 139.9}, {"station": "Maastricht", "day": 276.1, "pd": 139.5}, {"station": "Maastricht", "day": 277.4, "pd": 138.4}, {"station": "Maastricht", "day": 278.6, "pd": 137.2}, {"station": "Maastricht", "day": 280.8, "pd": 136.8}, {"station": "Maastricht", "day": 282, "pd": 136.3}, {"station": "Maastricht", "day": 291.8, "pd": 136.5}, {"station": "Maastricht", "day": 293.1, "pd": 136.1}, {"station": "Maastricht", "day": 296, "pd": 136.1}, {"station": "Maastricht", "day": 297.3, "pd": 136.6}, {"station": "Maastricht", "day": 299, "pd": 136.4}, {"station": "Maastricht", "day": 300.3, "pd": 136}, {"station": "Maastricht", "day": 309.6, "pd": 136}, {"station": "Maastricht", "day": 310.8, "pd": 135}, {"station": "Maastricht", "day": 312.1, "pd": 134.6}, {"station": "Maastricht", "day": 314.7, "pd": 134.5}, {"station": "Maastricht", "day": 317.2, "pd": 133.9}, {"station": "Maastricht", "day": 318.5, "pd": 133.9}, {"station": "Maastricht", "day": 319.7, "pd": 133.5}, {"station": "Maastricht", "day": 321.4, "pd": 133.1}, {"station": "Maastricht", "day": 323.1, "pd": 131.8}, {"station": "Maastricht", "day": 326.5, "pd": 131.8}, {"station": "Maastricht", "day": 328.2, "pd": 130.9}, {"station": "Maastricht", "day": 329.5, "pd": 130}, {"station": "Maastricht", "day": 331.6, "pd": 130.3}, {"station": "Maastricht", "day": 332.5, "pd": 129.4}, {"station": "Maastricht", "day": 333.7, "pd": 126.4}, {"station": "Maastricht", "day": 335, "pd": 125.8}, {"station": "Maastricht", "day": 337.1, "pd": 125.8}, {"station": "Maastricht", "day": 338, "pd": 124.1}, {"station": "Maastricht", "day": 339.2, "pd": 123.7}, {"station": "Maastricht", "day": 342.2, "pd": 123.7}, {"station": "Maastricht", "day": 343.1, "pd": 123.2}, {"station": "Maastricht", "day": 345.6, "pd": 123.2}, {"station": "Maastricht", "day": 346.9, "pd": 121.8}, {"station": "Maastricht", "day": 356.6, "pd": 121.8}, {"station": "Maastricht", "day": 357.9, "pd": 122.1}, {"station": "Maastricht", "day": 360, "pd": 121.9}, {"station": "Maastricht", "day": 365, "pd": 121.8},

      {"station": "Schiphol", "day": 1.3, "pd": 137.6}, {"station": "Schiphol", "day": 7.1, "pd": 137.6}, {"station": "Schiphol", "day": 9, "pd": 135.7}, {"station": "Schiphol", "day": 10.3, "pd": 135.4}, {"station": "Schiphol", "day": 11.3, "pd": 134}, {"station": "Schiphol", "day": 13.4, "pd": 134}, {"station": "Schiphol", "day": 15, "pd": 132.8}, {"station": "Schiphol", "day": 16.1, "pd": 129}, {"station": "Schiphol", "day": 17.5, "pd": 128.2}, {"station": "Schiphol", "day": 18.7, "pd": 126}, {"station": "Schiphol", "day": 25.1, "pd": 126}, {"station": "Schiphol", "day": 26.1, "pd": 125.6}, {"station": "Schiphol", "day": 27.2, "pd": 124.6}, {"station": "Schiphol", "day": 28.8, "pd": 126.1}, {"station": "Schiphol", "day": 30.9, "pd": 126.9}, {"station": "Schiphol", "day": 32.5, "pd": 126.1}, {"station": "Schiphol", "day": 34.1, "pd": 125.4}, {"station": "Schiphol", "day": 35.7, "pd": 121.8}, {"station": "Schiphol", "day": 36.7, "pd": 121.2}, {"station": "Schiphol", "day": 38.3, "pd": 118.9}, {"station": "Schiphol", "day": 40.9, "pd": 118.9}, {"station": "Schiphol", "day": 42.2, "pd": 117.6}, {"station": "Schiphol", "day": 43.1, "pd": 119.9}, {"station": "Schiphol", "day": 44.6, "pd": 120.5}, {"station": "Schiphol", "day": 46.2, "pd": 119.2}, {"station": "Schiphol", "day": 47.3, "pd": 118.9}, {"station": "Schiphol", "day": 51.4, "pd": 118.9}, {"station": "Schiphol", "day": 52.6, "pd": 120.7}, {"station": "Schiphol", "day": 53.9, "pd": 122.3}, {"station": "Schiphol", "day": 56.8, "pd": 122.2}, {"station": "Schiphol", "day": 62.6, "pd": 122}, {"station": "Schiphol", "day": 64, "pd": 122.5}, {"station": "Schiphol", "day": 97, "pd": 122.5}, {"station": "Schiphol", "day": 98.6, "pd": 122.3}, {"station": "Schiphol", "day": 102.9, "pd": 122.3}, {"station": "Schiphol", "day": 103.9, "pd": 122.7}, {"station": "Schiphol", "day": 105.5, "pd": 122.8}, {"station": "Schiphol", "day": 107.1, "pd": 123.3}, {"station": "Schiphol", "day": 108.1, "pd": 124.1}, {"station": "Schiphol", "day": 109.7, "pd": 123.6}, {"station": "Schiphol", "day": 111.3, "pd": 123}, {"station": "Schiphol", "day": 112.4, "pd": 124.8}, {"station": "Schiphol", "day": 113.4, "pd": 127.9}, {"station": "Schiphol", "day": 114.5, "pd": 128.2}, {"station": "Schiphol", "day": 116.1, "pd": 127.2}, {"station": "Schiphol", "day": 117.7, "pd": 128.6}, {"station": "Schiphol", "day": 119.3, "pd": 128.5}, {"station": "Schiphol", "day": 121.9, "pd": 128.7}, {"station": "Schiphol", "day": 123.5, "pd": 128.2}, {"station": "Schiphol", "day": 126.1, "pd": 128.2}, {"station": "Schiphol", "day": 127.7, "pd": 129.5}, {"station": "Schiphol", "day": 128.5, "pd": 149.1}, {"station": "Schiphol", "day": 129.8, "pd": 151.4}, {"station": "Schiphol", "day": 130.9, "pd": 151.4}, {"station": "Schiphol", "day": 132, "pd": 153.7}, {"station": "Schiphol", "day": 132.8, "pd": 156.8}, {"station": "Schiphol", "day": 134.6, "pd": 157.1}, {"station": "Schiphol", "day": 135.7, "pd": 156.5}, {"station": "Schiphol", "day": 137.5, "pd": 158.9}, {"station": "Schiphol", "day": 138.8, "pd": 159.1}, {"station": "Schiphol", "day": 140.2, "pd": 156.3}, {"station": "Schiphol", "day": 141.5, "pd": 157.6}, {"station": "Schiphol", "day": 143.6, "pd": 158.1}, {"station": "Schiphol", "day": 145.2, "pd": 160.9}, {"station": "Schiphol", "day": 146.8, "pd": 162.2}, {"station": "Schiphol", "day": 148.4, "pd": 166.3}, {"station": "Schiphol", "day": 150, "pd": 166.6}, {"station": "Schiphol", "day": 152.1, "pd": 166.3}, {"station": "Schiphol", "day": 153.7, "pd": 164.8}, {"station": "Schiphol", "day": 154.7, "pd": 164.8}, {"station": "Schiphol", "day": 156.3, "pd": 166.1}, {"station": "Schiphol", "day": 163.3, "pd": 166.1}, {"station": "Schiphol", "day": 164.9, "pd": 166.9}, {"station": "Schiphol", "day": 166, "pd": 169.2}, {"station": "Schiphol", "day": 167.5, "pd": 174}, {"station": "Schiphol", "day": 169.1, "pd": 173.7}, {"station": "Schiphol", "day": 169.6, "pd": 175.1}, {"station": "Schiphol", "day": 171.2, "pd": 175.4}, {"station": "Schiphol", "day": 172.3, "pd": 176.2}, {"station": "Schiphol", "day": 173.4, "pd": 176}, {"station": "Schiphol", "day": 173.9, "pd": 177.6}, {"station": "Schiphol", "day": 174.9, "pd": 178.4}, {"station": "Schiphol", "day": 187.7, "pd": 178.4}, {"station": "Schiphol", "day": 189.3, "pd": 178.8}, {"station": "Schiphol", "day": 190.9, "pd": 181.3}, {"station": "Schiphol", "day": 191.9, "pd": 182.4}, {"station": "Schiphol", "day": 193, "pd": 184.1}, {"station": "Schiphol", "day": 193.5, "pd": 186.7}, {"station": "Schiphol", "day": 195.1, "pd": 186.1}, {"station": "Schiphol", "day": 196.7, "pd": 185.8}, {"station": "Schiphol", "day": 205.7, "pd": 185.8}, {"station": "Schiphol", "day": 206.8, "pd": 202.1}, {"station": "Schiphol", "day": 207.3, "pd": 217.6}, {"station": "Schiphol", "day": 208.4, "pd": 220.7}, {"station": "Schiphol", "day": 211, "pd": 220.7}, {"station": "Schiphol", "day": 212.1, "pd": 222.7}, {"station": "Schiphol", "day": 213.7, "pd": 224.6}, {"station": "Schiphol", "day": 214.7, "pd": 228}, {"station": "Schiphol", "day": 215.8, "pd": 233.1}, {"station": "Schiphol", "day": 216.8, "pd": 234.5}, {"station": "Schiphol", "day": 217.6, "pd": 240.1}, {"station": "Schiphol", "day": 218.4, "pd": 250.2}, {"station": "Schiphol", "day": 219, "pd": 251.1}, {"station": "Schiphol", "day": 220, "pd": 252.8}, {"station": "Schiphol", "day": 222.7, "pd": 252.8}, {"station": "Schiphol", "day": 223.7, "pd": 252}, {"station": "Schiphol", "day": 224.3, "pd": 252.5}, {"station": "Schiphol", "day": 225, "pd": 255.6}, {"station": "Schiphol", "day": 225.8, "pd": 259.8}, {"station": "Schiphol", "day": 227.1, "pd": 260.1}, {"station": "Schiphol", "day": 227.8, "pd": 263.2}, {"station": "Schiphol", "day": 228.5, "pd": 264.8}, {"station": "Schiphol", "day": 229.6, "pd": 265.7}, {"station": "Schiphol", "day": 230.1, "pd": 271}, {"station": "Schiphol", "day": 230.6, "pd": 281.2}, {"station": "Schiphol", "day": 231.7, "pd": 281.7}, {"station": "Schiphol", "day": 232.2, "pd": 281.7}, {"station": "Schiphol", "day": 232.7, "pd": 274.4}, {"station": "Schiphol", "day": 233.8, "pd": 273.6}, {"station": "Schiphol", "day": 234.9, "pd": 268.2}, {"station": "Schiphol", "day": 235.6, "pd": 264.6}, {"station": "Schiphol", "day": 236.2, "pd": 225.5}, {"station": "Schiphol", "day": 237.5, "pd": 222.1}, {"station": "Schiphol", "day": 238.8, "pd": 221.1}, {"station": "Schiphol", "day": 241.7, "pd": 221.1}, {"station": "Schiphol", "day": 243, "pd": 221.8}, {"station": "Schiphol", "day": 247.6, "pd": 221.7}, {"station": "Schiphol", "day": 248.3, "pd": 219.2}, {"station": "Schiphol", "day": 249.7, "pd": 221.7}, {"station": "Schiphol", "day": 250.7, "pd": 220.4}, {"station": "Schiphol", "day": 252.5, "pd": 209.8}, {"station": "Schiphol", "day": 253.9, "pd": 209.7}, {"station": "Schiphol", "day": 255.5, "pd": 211.4}, {"station": "Schiphol", "day": 256.8, "pd": 209.4}, {"station": "Schiphol", "day": 258.7, "pd": 209.8}, {"station": "Schiphol", "day": 260, "pd": 209.7}, {"station": "Schiphol", "day": 261.3, "pd": 208.9}, {"station": "Schiphol", "day": 262.1, "pd": 208.2}, {"station": "Schiphol", "day": 267.2, "pd": 208.3}, {"station": "Schiphol", "day": 268.5, "pd": 208.6}, {"station": "Schiphol", "day": 300.7, "pd": 208.6}, {"station": "Schiphol", "day": 302, "pd": 207.6}, {"station": "Schiphol", "day": 306.2, "pd": 207.6}, {"station": "Schiphol", "day": 307, "pd": 207.8}, {"station": "Schiphol", "day": 309.2, "pd": 207.8}, {"station": "Schiphol", "day": 310.4, "pd": 209.7}, {"station": "Schiphol", "day": 311.3, "pd": 210.8}, {"station": "Schiphol", "day": 312.5, "pd": 211.6}, {"station": "Schiphol", "day": 315.1, "pd": 211.7}, {"station": "Schiphol", "day": 316.4, "pd": 210.8}, {"station": "Schiphol", "day": 317.2, "pd": 200.7}, {"station": "Schiphol", "day": 318.5, "pd": 198.8}, {"station": "Schiphol", "day": 319.3, "pd": 198.4}, {"station": "Schiphol", "day": 320.2, "pd": 195.8}, {"station": "Schiphol", "day": 321.4, "pd": 195}, {"station": "Schiphol", "day": 322.3, "pd": 194.8}, {"station": "Schiphol", "day": 323.1, "pd": 188.7}, {"station": "Schiphol", "day": 324, "pd": 187.9}, {"station": "Schiphol", "day": 327.4, "pd": 187.8}, {"station": "Schiphol", "day": 328.2, "pd": 186.6}, {"station": "Schiphol", "day": 329.1, "pd": 181.2}, {"station": "Schiphol", "day": 329.9, "pd": 178.9}, {"station": "Schiphol", "day": 330.8, "pd": 174.4}, {"station": "Schiphol", "day": 331.6, "pd": 173.6}, {"station": "Schiphol", "day": 332.5, "pd": 169.9}, {"station": "Schiphol", "day": 333.7, "pd": 168.4}, {"station": "Schiphol", "day": 335, "pd": 168.7}, {"station": "Schiphol", "day": 336.3, "pd": 168.7}, {"station": "Schiphol", "day": 337.5, "pd": 166.1}, {"station": "Schiphol", "day": 339.2, "pd": 164.3}, {"station": "Schiphol", "day": 340.1, "pd": 159.4}, {"station": "Schiphol", "day": 340.5, "pd": 142.5}, {"station": "Schiphol", "day": 341.8, "pd": 140.8}, {"station": "Schiphol", "day": 347.7, "pd": 140.8}, {"station": "Schiphol", "day": 349, "pd": 141.7}, {"station": "Schiphol", "day": 349.8, "pd": 142.5}, {"station": "Schiphol", "day": 351.9, "pd": 143.6}, {"station": "Schiphol", "day": 353.2, "pd": 143.6}, {"station": "Schiphol", "day": 354.5, "pd": 141.7}, {"station": "Schiphol", "day": 355.8, "pd": 140.2}, {"station": "Schiphol", "day": 357.5, "pd": 138.9}, {"station": "Schiphol", "day": 358.7, "pd": 137.6}, {"station": "Schiphol", "day": 361.3, "pd": 137.4}, {"station": "Schiphol", "day": 365, "pd": 137.4},

      {"station": "Twenthe", "day": 1.3, "pd": 143.4}, {"station": "Twenthe", "day": 2.3, "pd": 143.9}, {"station": "Twenthe", "day": 3.4, "pd": 144.2}, {"station": "Twenthe", "day": 4.4, "pd": 145.3}, {"station": "Twenthe", "day": 12.9, "pd": 145.3}, {"station": "Twenthe", "day": 14, "pd": 144.3}, {"station": "Twenthe", "day": 17.7, "pd": 144.3}, {"station": "Twenthe", "day": 19.8, "pd": 143.7}, {"station": "Twenthe", "day": 28.3, "pd": 143.7}, {"station": "Twenthe", "day": 29.8, "pd": 143.9}, {"station": "Twenthe", "day": 31.2, "pd": 143.8}, {"station": "Twenthe", "day": 32.3, "pd": 142.3}, {"station": "Twenthe", "day": 33.5, "pd": 142.1}, {"station": "Twenthe", "day": 36.7, "pd": 141.9}, {"station": "Twenthe", "day": 38.3, "pd": 142.5}, {"station": "Twenthe", "day": 43.1, "pd": 142.5}, {"station": "Twenthe", "day": 44.3, "pd": 141.9}, {"station": "Twenthe", "day": 52.1, "pd": 141.9}, {"station": "Twenthe", "day": 53.1, "pd": 142.4}, {"station": "Twenthe", "day": 57.9, "pd": 142.4}, {"station": "Twenthe", "day": 59.2, "pd": 142.1}, {"station": "Twenthe", "day": 60.8, "pd": 142.1}, {"station": "Twenthe", "day": 62.1, "pd": 141.8}, {"station": "Twenthe", "day": 66.9, "pd": 141.8}, {"station": "Twenthe", "day": 67.9, "pd": 142.9}, {"station": "Twenthe", "day": 70.1, "pd": 143}, {"station": "Twenthe", "day": 71.4, "pd": 143.5}, {"station": "Twenthe", "day": 73.2, "pd": 143.7}, {"station": "Twenthe", "day": 74.3, "pd": 146.2}, {"station": "Twenthe", "day": 75.3, "pd": 146.5}, {"station": "Twenthe", "day": 77.1, "pd": 147.9}, {"station": "Twenthe", "day": 79, "pd": 148}, {"station": "Twenthe", "day": 80.1, "pd": 150.4}, {"station": "Twenthe", "day": 81.2, "pd": 150.9}, {"station": "Twenthe", "day": 82.2, "pd": 150.4}, {"station": "Twenthe", "day": 83.3, "pd": 150.9}, {"station": "Twenthe", "day": 88, "pd": 150.9}, {"station": "Twenthe", "day": 89.1, "pd": 152.8}, {"station": "Twenthe", "day": 90.2, "pd": 154.2}, {"station": "Twenthe", "day": 91.7, "pd": 155}, {"station": "Twenthe", "day": 93.9, "pd": 155.2}, {"station": "Twenthe", "day": 95.1, "pd": 154.1}, {"station": "Twenthe", "day": 100.7, "pd": 154.2}, {"station": "Twenthe", "day": 102.1, "pd": 154.7}, {"station": "Twenthe", "day": 106, "pd": 154.7}, {"station": "Twenthe", "day": 107.1, "pd": 153.7}, {"station": "Twenthe", "day": 108.1, "pd": 150.4}, {"station": "Twenthe", "day": 109.2, "pd": 150.4}, {"station": "Twenthe", "day": 110.8, "pd": 152.7}, {"station": "Twenthe", "day": 112.4, "pd": 153.6}, {"station": "Twenthe", "day": 118.1, "pd": 153.6}, {"station": "Twenthe", "day": 119.3, "pd": 152.9}, {"station": "Twenthe", "day": 120.3, "pd": 153.4}, {"station": "Twenthe", "day": 122.9, "pd": 153.4}, {"station": "Twenthe", "day": 124.6, "pd": 154.1}, {"station": "Twenthe", "day": 130.9, "pd": 154.1}, {"station": "Twenthe", "day": 132.5, "pd": 156.3}, {"station": "Twenthe", "day": 134.1, "pd": 157.3}, {"station": "Twenthe", "day": 135.7, "pd": 159.4}, {"station": "Twenthe", "day": 136.7, "pd": 162.2}, {"station": "Twenthe", "day": 137.8, "pd": 162.7}, {"station": "Twenthe", "day": 139.4, "pd": 163.4}, {"station": "Twenthe", "day": 143.1, "pd": 163.4}, {"station": "Twenthe", "day": 144.8, "pd": 165.2}, {"station": "Twenthe", "day": 146.2, "pd": 164.3}, {"station": "Twenthe", "day": 148.4, "pd": 165.1}, {"station": "Twenthe", "day": 150.5, "pd": 165.8}, {"station": "Twenthe", "day": 152.1, "pd": 167.6}, {"station": "Twenthe", "day": 153.7, "pd": 167.4}, {"station": "Twenthe", "day": 178.6, "pd": 167.3}, {"station": "Twenthe", "day": 179.7, "pd": 165.8}, {"station": "Twenthe", "day": 180.3, "pd": 165.8}, {"station": "Twenthe", "day": 181.3, "pd": 164.9}, {"station": "Twenthe", "day": 187.7, "pd": 164.9}, {"station": "Twenthe", "day": 188.2, "pd": 162.2}, {"station": "Twenthe", "day": 189.8, "pd": 161.7}, {"station": "Twenthe", "day": 191.4, "pd": 161.3}, {"station": "Twenthe", "day": 193, "pd": 161.7}, {"station": "Twenthe", "day": 196.7, "pd": 161.7}, {"station": "Twenthe", "day": 197.8, "pd": 160.8}, {"station": "Twenthe", "day": 199.2, "pd": 160.8}, {"station": "Twenthe", "day": 200.4, "pd": 162.7}, {"station": "Twenthe", "day": 201.5, "pd": 162.5}, {"station": "Twenthe", "day": 202.5, "pd": 161.6}, {"station": "Twenthe", "day": 203.6, "pd": 158.2}, {"station": "Twenthe", "day": 204.1, "pd": 156.8}, {"station": "Twenthe", "day": 205, "pd": 156.5}, {"station": "Twenthe", "day": 205.7, "pd": 183.6}, {"station": "Twenthe", "day": 207.3, "pd": 185.8}, {"station": "Twenthe", "day": 208.9, "pd": 188.3}, {"station": "Twenthe", "day": 209.9, "pd": 189.2}, {"station": "Twenthe", "day": 216.9, "pd": 189.2}, {"station": "Twenthe", "day": 217.9, "pd": 188.3}, {"station": "Twenthe", "day": 219.5, "pd": 188.2}, {"station": "Twenthe", "day": 221.7, "pd": 186.5}, {"station": "Twenthe", "day": 223.2, "pd": 187}, {"station": "Twenthe", "day": 224.8, "pd": 185.8}, {"station": "Twenthe", "day": 225.7, "pd": 186.4}, {"station": "Twenthe", "day": 226.4, "pd": 193.7}, {"station": "Twenthe", "day": 227.5, "pd": 196.5}, {"station": "Twenthe", "day": 228.6, "pd": 194.3}, {"station": "Twenthe", "day": 230.1, "pd": 192.6}, {"station": "Twenthe", "day": 231.7, "pd": 193.1}, {"station": "Twenthe", "day": 232.8, "pd": 190.9}, {"station": "Twenthe", "day": 233.9, "pd": 189.5}, {"station": "Twenthe", "day": 235.5, "pd": 190.9}, {"station": "Twenthe", "day": 236, "pd": 196.5}, {"station": "Twenthe", "day": 237.6, "pd": 197.7}, {"station": "Twenthe", "day": 239.7, "pd": 207.5}, {"station": "Twenthe", "day": 241.3, "pd": 211.4}, {"station": "Twenthe", "day": 242.4, "pd": 211.7}, {"station": "Twenthe", "day": 244, "pd": 211.8}, {"station": "Twenthe", "day": 249.8, "pd": 212}, {"station": "Twenthe", "day": 250.8, "pd": 214}, {"station": "Twenthe", "day": 252.4, "pd": 214.2}, {"station": "Twenthe", "day": 254, "pd": 212.3}, {"station": "Twenthe", "day": 255.1, "pd": 210.3}, {"station": "Twenthe", "day": 255.6, "pd": 209.7}, {"station": "Twenthe", "day": 257.2, "pd": 209.2}, {"station": "Twenthe", "day": 258.3, "pd": 214.2}, {"station": "Twenthe", "day": 259.3, "pd": 214.9}, {"station": "Twenthe", "day": 262.5, "pd": 214.9}, {"station": "Twenthe", "day": 263.8, "pd": 214.3}, {"station": "Twenthe", "day": 272.3, "pd": 214.2}, {"station": "Twenthe", "day": 274, "pd": 213.1}, {"station": "Twenthe", "day": 275.7, "pd": 211.2}, {"station": "Twenthe", "day": 277.4, "pd": 208.2}, {"station": "Twenthe", "day": 281.6, "pd": 208.2}, {"station": "Twenthe", "day": 283.3, "pd": 207.8}, {"station": "Twenthe", "day": 285, "pd": 206.7}, {"station": "Twenthe", "day": 286.3, "pd": 204.8}, {"station": "Twenthe", "day": 287.5, "pd": 204.1}, {"station": "Twenthe", "day": 288.8, "pd": 203.3}, {"station": "Twenthe", "day": 290.9, "pd": 201.6}, {"station": "Twenthe", "day": 291.8, "pd": 197.8}, {"station": "Twenthe", "day": 293.5, "pd": 197.8}, {"station": "Twenthe", "day": 295.2, "pd": 196.9}, {"station": "Twenthe", "day": 296.4, "pd": 196.5}, {"station": "Twenthe", "day": 297.7, "pd": 193.5}, {"station": "Twenthe", "day": 302.8, "pd": 193.5}, {"station": "Twenthe", "day": 304.9, "pd": 193.2}, {"station": "Twenthe", "day": 305.8, "pd": 192}, {"station": "Twenthe", "day": 307, "pd": 188.7}, {"station": "Twenthe", "day": 307.9, "pd": 185.7}, {"station": "Twenthe", "day": 309.6, "pd": 180.8}, {"station": "Twenthe", "day": 311.3, "pd": 177.8}, {"station": "Twenthe", "day": 312.1, "pd": 174.4}, {"station": "Twenthe", "day": 313.4, "pd": 172.5}, {"station": "Twenthe", "day": 316.4, "pd": 172.5}, {"station": "Twenthe", "day": 318.1, "pd": 171.4}, {"station": "Twenthe", "day": 319.3, "pd": 171}, {"station": "Twenthe", "day": 320.4, "pd": 165.8}, {"station": "Twenthe", "day": 321.4, "pd": 159.8}, {"station": "Twenthe", "day": 322.4, "pd": 160.5}, {"station": "Twenthe", "day": 323.6, "pd": 161.3}, {"station": "Twenthe", "day": 325.7, "pd": 160.5}, {"station": "Twenthe", "day": 336.7, "pd": 160.5}, {"station": "Twenthe", "day": 338.8, "pd": 159}, {"station": "Twenthe", "day": 340.1, "pd": 157.5}, {"station": "Twenthe", "day": 340.9, "pd": 155.6}, {"station": "Twenthe", "day": 341.8, "pd": 137.6}, {"station": "Twenthe", "day": 342.6, "pd": 136.1}, {"station": "Twenthe", "day": 343.9, "pd": 136.9}, {"station": "Twenthe", "day": 344.7, "pd": 138.7}, {"station": "Twenthe", "day": 346.4, "pd": 140.2}, {"station": "Twenthe", "day": 347.7, "pd": 139.8}, {"station": "Twenthe", "day": 349.8, "pd": 138.9}, {"station": "Twenthe", "day": 351.9, "pd": 140.6}, {"station": "Twenthe", "day": 356.1, "pd": 140.6}, {"station": "Twenthe", "day": 357.4, "pd": 141}, {"station": "Twenthe", "day": 359, "pd": 141.4}, {"station": "Twenthe", "day": 360, "pd": 143.2}, {"station": "Twenthe", "day": 365, "pd": 143.2},

      {"station": "Vlissingen", "day": 1.3, "pd": 137.3}, {"station": "Vlissingen", "day": 3.7, "pd": 137.3}, {"station": "Vlissingen", "day": 5, "pd": 136.4}, {"station": "Vlissingen", "day": 15.6, "pd": 136.4}, {"station": "Vlissingen", "day": 16.8, "pd": 136.1}, {"station": "Vlissingen", "day": 18.2, "pd": 136}, {"station": "Vlissingen", "day": 19.2, "pd": 133.7}, {"station": "Vlissingen", "day": 20.3, "pd": 133.4}, {"station": "Vlissingen", "day": 21.9, "pd": 133.4}, {"station": "Vlissingen", "day": 23, "pd": 132.6}, {"station": "Vlissingen", "day": 24.5, "pd": 131.8}, {"station": "Vlissingen", "day": 25.6, "pd": 131.8}, {"station": "Vlissingen", "day": 26.7, "pd": 129.2}, {"station": "Vlissingen", "day": 27.8, "pd": 129.1}, {"station": "Vlissingen", "day": 38.8, "pd": 129}, {"station": "Vlissingen", "day": 39.9, "pd": 128}, {"station": "Vlissingen", "day": 41, "pd": 126.1}, {"station": "Vlissingen", "day": 42.1, "pd": 125.4}, {"station": "Vlissingen", "day": 56.2, "pd": 125.4}, {"station": "Vlissingen", "day": 58.4, "pd": 125.6}, {"station": "Vlissingen", "day": 63.7, "pd": 125.6}, {"station": "Vlissingen", "day": 65.3, "pd": 125.9}, {"station": "Vlissingen", "day": 67.9, "pd": 125.9}, {"station": "Vlissingen", "day": 69.5, "pd": 126.1}, {"station": "Vlissingen", "day": 71.1, "pd": 125.6}, {"station": "Vlissingen", "day": 74.3, "pd": 125.6}, {"station": "Vlissingen", "day": 75.3, "pd": 126.5}, {"station": "Vlissingen", "day": 78, "pd": 126.5}, {"station": "Vlissingen", "day": 79.3, "pd": 126.8}, {"station": "Vlissingen", "day": 97, "pd": 126.8}, {"station": "Vlissingen", "day": 98.1, "pd": 127.2}, {"station": "Vlissingen", "day": 99.7, "pd": 128}, {"station": "Vlissingen", "day": 100.7, "pd": 133.6}, {"station": "Vlissingen", "day": 101.8, "pd": 136.7}, {"station": "Vlissingen", "day": 103.9, "pd": 138.1}, {"station": "Vlissingen", "day": 106, "pd": 138.1}, {"station": "Vlissingen", "day": 107.6, "pd": 138.8}, {"station": "Vlissingen", "day": 108.7, "pd": 140.1}, {"station": "Vlissingen", "day": 109.7, "pd": 140.1}, {"station": "Vlissingen", "day": 111.3, "pd": 140.8}, {"station": "Vlissingen", "day": 112.9, "pd": 140.8}, {"station": "Vlissingen", "day": 114.5, "pd": 141.6}, {"station": "Vlissingen", "day": 115.9, "pd": 142.6}, {"station": "Vlissingen", "day": 117.4, "pd": 144.4}, {"station": "Vlissingen", "day": 118.7, "pd": 144.7}, {"station": "Vlissingen", "day": 120.1, "pd": 145.2}, {"station": "Vlissingen", "day": 121.4, "pd": 143.7}, {"station": "Vlissingen", "day": 122.9, "pd": 143.7}, {"station": "Vlissingen", "day": 124, "pd": 143.1}, {"station": "Vlissingen", "day": 130.4, "pd": 143.1}, {"station": "Vlissingen", "day": 132, "pd": 143.6}, {"station": "Vlissingen", "day": 133.6, "pd": 144.2}, {"station": "Vlissingen", "day": 136.8, "pd": 144.4}, {"station": "Vlissingen", "day": 137.8, "pd": 146.5}, {"station": "Vlissingen", "day": 139.9, "pd": 146.7}, {"station": "Vlissingen", "day": 140.9, "pd": 151.8}, {"station": "Vlissingen", "day": 142.5, "pd": 153.2}, {"station": "Vlissingen", "day": 145.7, "pd": 154.2}, {"station": "Vlissingen", "day": 147.3, "pd": 154.5}, {"station": "Vlissingen", "day": 148.4, "pd": 155.8}, {"station": "Vlissingen", "day": 155.2, "pd": 156}, {"station": "Vlissingen", "day": 156.3, "pd": 158.4}, {"station": "Vlissingen", "day": 157.1, "pd": 159.6}, {"station": "Vlissingen", "day": 158.9, "pd": 160.4}, {"station": "Vlissingen", "day": 162.7, "pd": 160.5}, {"station": "Vlissingen", "day": 164.1, "pd": 162.2}, {"station": "Vlissingen", "day": 165.9, "pd": 162.2}, {"station": "Vlissingen", "day": 167, "pd": 162.6}, {"station": "Vlissingen", "day": 176.6, "pd": 162.6}, {"station": "Vlissingen", "day": 177.6, "pd": 163.9}, {"station": "Vlissingen", "day": 186.6, "pd": 163.9}, {"station": "Vlissingen", "day": 187.7, "pd": 165.8}, {"station": "Vlissingen", "day": 188.8, "pd": 165.9}, {"station": "Vlissingen", "day": 190.3, "pd": 166.1}, {"station": "Vlissingen", "day": 191.4, "pd": 166.9}, {"station": "Vlissingen", "day": 193, "pd": 168.1}, {"station": "Vlissingen", "day": 194, "pd": 168}, {"station": "Vlissingen", "day": 194.9, "pd": 184.8}, {"station": "Vlissingen", "day": 196.4, "pd": 185.2}, {"station": "Vlissingen", "day": 197, "pd": 185.5}, {"station": "Vlissingen", "day": 198.3, "pd": 185}, {"station": "Vlissingen", "day": 202.5, "pd": 185}, {"station": "Vlissingen", "day": 203.6, "pd": 186.5}, {"station": "Vlissingen", "day": 204.7, "pd": 186.7}, {"station": "Vlissingen", "day": 206.8, "pd": 187}, {"station": "Vlissingen", "day": 208.4, "pd": 187.5}, {"station": "Vlissingen", "day": 209.9, "pd": 188.2}, {"station": "Vlissingen", "day": 210.8, "pd": 194.8}, {"station": "Vlissingen", "day": 211.9, "pd": 195.4}, {"station": "Vlissingen", "day": 212.6, "pd": 199.3}, {"station": "Vlissingen", "day": 214.8, "pd": 199.5}, {"station": "Vlissingen", "day": 216.3, "pd": 200.5}, {"station": "Vlissingen", "day": 217.2, "pd": 201.6}, {"station": "Vlissingen", "day": 217.9, "pd": 199.3}, {"station": "Vlissingen", "day": 219.5, "pd": 199}, {"station": "Vlissingen", "day": 221.1, "pd": 198.5}, {"station": "Vlissingen", "day": 222.5, "pd": 198.2}, {"station": "Vlissingen", "day": 223.8, "pd": 196.2}, {"station": "Vlissingen", "day": 225.4, "pd": 195.8}, {"station": "Vlissingen", "day": 226.4, "pd": 197.1}, {"station": "Vlissingen", "day": 227.5, "pd": 197.6}, {"station": "Vlissingen", "day": 228.6, "pd": 194.5}, {"station": "Vlissingen", "day": 229.6, "pd": 194.3}, {"station": "Vlissingen", "day": 231.2, "pd": 194}, {"station": "Vlissingen", "day": 232.8, "pd": 193.4}, {"station": "Vlissingen", "day": 237, "pd": 193.4}, {"station": "Vlissingen", "day": 238.6, "pd": 194.3}, {"station": "Vlissingen", "day": 239.7, "pd": 196}, {"station": "Vlissingen", "day": 240.8, "pd": 197.6}, {"station": "Vlissingen", "day": 241.8, "pd": 202.7}, {"station": "Vlissingen", "day": 242.9, "pd": 205}, {"station": "Vlissingen", "day": 244, "pd": 209.5}, {"station": "Vlissingen", "day": 244.7, "pd": 216}, {"station": "Vlissingen", "day": 245.4, "pd": 226}, {"station": "Vlissingen", "day": 246.5, "pd": 226.6}, {"station": "Vlissingen", "day": 247.2, "pd": 224.9}, {"station": "Vlissingen", "day": 248.1, "pd": 226.6}, {"station": "Vlissingen", "day": 249.1, "pd": 226.2}, {"station": "Vlissingen", "day": 250.7, "pd": 224.1}, {"station": "Vlissingen", "day": 251.8, "pd": 223.5}, {"station": "Vlissingen", "day": 253.4, "pd": 223.2}, {"station": "Vlissingen", "day": 254.4, "pd": 224.4}, {"station": "Vlissingen", "day": 256, "pd": 224.4}, {"station": "Vlissingen", "day": 257, "pd": 222.4}, {"station": "Vlissingen", "day": 258.7, "pd": 221.8}, {"station": "Vlissingen", "day": 260.8, "pd": 221.7}, {"station": "Vlissingen", "day": 261.7, "pd": 220.6}, {"station": "Vlissingen", "day": 262.9, "pd": 219.4}, {"station": "Vlissingen", "day": 264.2, "pd": 217.9}, {"station": "Vlissingen", "day": 265.1, "pd": 203.7}, {"station": "Vlissingen", "day": 266.4, "pd": 202.2}, {"station": "Vlissingen", "day": 268.1, "pd": 201.1}, {"station": "Vlissingen", "day": 282.9, "pd": 201.1}, {"station": "Vlissingen", "day": 283.7, "pd": 202.3}, {"station": "Vlissingen", "day": 285.8, "pd": 202.3}, {"station": "Vlissingen", "day": 287.1, "pd": 201.8}, {"station": "Vlissingen", "day": 289.7, "pd": 201.8}, {"station": "Vlissingen", "day": 290.5, "pd": 200.7}, {"station": "Vlissingen", "day": 292.2, "pd": 199.8}, {"station": "Vlissingen", "day": 293.5, "pd": 199.4}, {"station": "Vlissingen", "day": 295.2, "pd": 200.3}, {"station": "Vlissingen", "day": 297.3, "pd": 199.9}, {"station": "Vlissingen", "day": 298.6, "pd": 198.4}, {"station": "Vlissingen", "day": 299.8, "pd": 198}, {"station": "Vlissingen", "day": 300.7, "pd": 196.5}, {"station": "Vlissingen", "day": 302, "pd": 196.2}, {"station": "Vlissingen", "day": 303.2, "pd": 185.7}, {"station": "Vlissingen", "day": 304.5, "pd": 179.7}, {"station": "Vlissingen", "day": 305.3, "pd": 178.2}, {"station": "Vlissingen", "day": 306.2, "pd": 174}, {"station": "Vlissingen", "day": 307.5, "pd": 172.1}, {"station": "Vlissingen", "day": 308.7, "pd": 170.6}, {"station": "Vlissingen", "day": 310.4, "pd": 170}, {"station": "Vlissingen", "day": 312.1, "pd": 169.7}, {"station": "Vlissingen", "day": 318.1, "pd": 169.7}, {"station": "Vlissingen", "day": 320.6, "pd": 169.5}, {"station": "Vlissingen", "day": 321.4, "pd": 167.9}, {"station": "Vlissingen", "day": 323.1, "pd": 167.6}, {"station": "Vlissingen", "day": 325.7, "pd": 166.7}, {"station": "Vlissingen", "day": 329.1, "pd": 167}, {"station": "Vlissingen", "day": 330.3, "pd": 167}, {"station": "Vlissingen", "day": 331.6, "pd": 165.4}, {"station": "Vlissingen", "day": 333.7, "pd": 165.2}, {"station": "Vlissingen", "day": 334.6, "pd": 163.1}, {"station": "Vlissingen", "day": 335.4, "pd": 162}, {"station": "Vlissingen", "day": 336.3, "pd": 160.5}, {"station": "Vlissingen", "day": 337.1, "pd": 157.9}, {"station": "Vlissingen", "day": 337.7, "pd": 155.3}, {"station": "Vlissingen", "day": 340.1, "pd": 155}, {"station": "Vlissingen", "day": 343.5, "pd": 154.7}, {"station": "Vlissingen", "day": 344.5, "pd": 153.4}, {"station": "Vlissingen", "day": 345.6, "pd": 153.7}, {"station": "Vlissingen", "day": 348.6, "pd": 154}, {"station": "Vlissingen", "day": 349.8, "pd": 154.7}, {"station": "Vlissingen", "day": 351.1, "pd": 154.1}, {"station": "Vlissingen", "day": 351.9, "pd": 154}, {"station": "Vlissingen", "day": 352.8, "pd": 146.7}, {"station": "Vlissingen", "day": 353.8, "pd": 140.7}, {"station": "Vlissingen", "day": 355.3, "pd": 139.3}, {"station": "Vlissingen", "day": 357.9, "pd": 139}, {"station": "Vlissingen", "day": 360, "pd": 138.1}, {"station": "Vlissingen", "day": 361.3, "pd": 137.3}, {"station": "Vlissingen", "day": 365, "pd": 137.3}
    ]
  },
  "mark": {
    "type": "line",
    "strokeWidth": 8.5,
    "strokeJoin": "round",
    "strokeCap": "butt"
  },
  "encoding": {
    "x": {
      "field": "day",
      "type": "quantitative",
      "title": "Day of the year",
      "scale": {"domain": [-17.2, 383.2], "nice": false, "zero": false},
      "axis": {
        "values": [0, 50, 100, 150, 200, 250, 300, 350],
        "labelExpr": "datum.value % 100 === 0 ? datum.label : ''",
        "gridWidth": {"condition": {"test": "datum.value % 100 === 0", "value": 3.8}, "value": 1.9},
        "labelPadding": 12,
        "titlePadding": 4
      }
    },
    "y": {
      "field": "pd",
      "type": "quantitative",
      "title": "PD (Quantile 99.95%)",
      "scale": {"domain": [91.3, 290.9], "nice": false, "zero": false},
      "axis": {
        "values": [100, 125, 150, 175, 200, 225, 250, 275],
        "labelExpr": "datum.value % 50 === 0 ? datum.label : ''",
        "gridWidth": {"condition": {"test": "datum.value % 50 === 0", "value": 3.8}, "value": 1.9},
        "labelPadding": 24,
        "titlePadding": 12
      }
    },
    "color": {
      "field": "station",
      "type": "nominal",
      "title": "Station name",
      "scale": {
        "domain": ["De Bilt", "De Kooy", "Eelde", "Maastricht", "Schiphol", "Twenthe", "Vlissingen"],
        "range": ["#F8766D", "#C49A00", "#53B400", "#00C094", "#00B6EB", "#A58AFF", "#FB61D7"]
      },
      "legend": {
        "orient": "none",
        "legendX": 2476,
        "legendY": 954
      }
    }
  }
}
